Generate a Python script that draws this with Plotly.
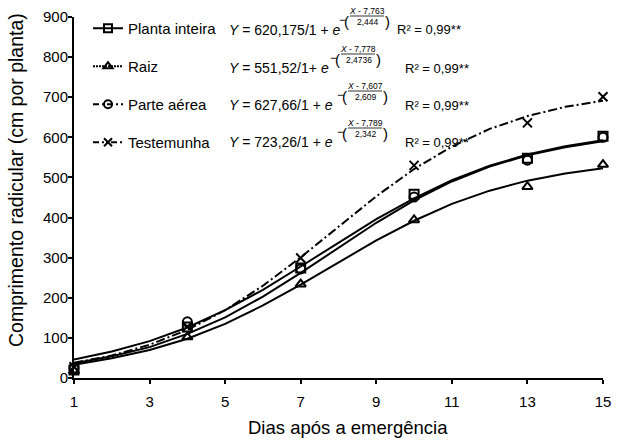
import plotly.graph_objects as go

# ---------------- data ----------------
days_obs = [1, 4, 7, 10, 13, 15]
planta_obs = [20, 127, 274, 458, 548, 603]
raiz_obs = [18, 102, 234, 394, 477, 532]
parte_obs = [25, 140, 272, 451, 543, 600]
test_obs = [28, 128, 299, 530, 636, 701]

days_fit = list(range(1, 16))
planta_fit = [37, 54, 77, 110, 151, 203, 262, 325, 387, 443, 490, 527, 555, 575, 590]
raiz_fit = [33, 49, 70, 98, 135, 181, 233, 288, 343, 392, 434, 467, 492, 510, 523]
parte_fit = [46, 66, 92, 126, 169, 220, 278, 337, 396, 448, 493, 529, 557, 578, 593]
test_fit = [38, 56, 83, 120, 169, 230, 301, 378, 453, 521, 577, 621, 653, 676, 691]

series_names = ["Planta inteira", "Raiz", "Parte aérea", "Testemunha"]
eq_base = ["<i>Y</i> = 620,175/1 + <i>e</i>", "<i>Y</i> = 551,52/1+ <i>e</i>",
           "<i>Y</i> = 627,66/1 + <i>e</i>", "<i>Y</i> = 723,26/1 + <i>e</i>"]
eq_num = ["<i>X</i> - 7,763", "<i>X</i> - 7,778", "<i>X</i> - 7,607", "<i>X</i> - 7,789"]
eq_den = ["2,444", "2,4736", "2,609", "2,342"]
r2_text = ["R² = 0,99**"] * 4

x_ticks = [1, 3, 5, 7, 9, 11, 13, 15]
y_ticks = [0, 100, 200, 300, 400, 500, 600, 700, 800, 900]
x_title = "Dias após a emergência"
y_title = "Comprimento radicular (cm por planta)"

# ---------------- styles ----------------
FONT = "Liberation Sans, Arial, sans-serif"
symbols = ["square-open", "triangle-up-open", "circle-open", "x-thin-open"]
fit_dash = ["solid", "solid", "solid", "9px,3px,2px,3px"]
leg_dash = ["solid", "2px,1px", "6px,3px,2px,3px", "6px,3px,2px,2px,2px,3px"]
obs_all = [planta_obs, raiz_obs, parte_obs, test_obs]
fit_all = [planta_fit, raiz_fit, parte_fit, test_fit]

L, R, T, B = 74, 16, 17, 65
W, H = 619, 443
PW, PH = W - L - R, H - T - B


def px(x):
    return (x - L) / PW


def py(y):
    return (H - B - y) / PH


fig = go.Figure()

for i in range(4):
    fig.add_trace(go.Scatter(
        x=days_fit, y=fit_all[i], mode="lines", showlegend=False,
        line=dict(color="black", width=2, dash=fit_dash[i]), hoverinfo="skip"))

for i in range(4):
    fig.add_trace(go.Scatter(
        x=days_obs, y=obs_all[i], mode="markers", showlegend=False, cliponaxis=False,
        marker=dict(symbol=symbols[i], size=9, color="black",
                    line=dict(color="black", width=2))))

# legend entries
for i in range(4):
    fig.add_trace(go.Scatter(
        x=[None], y=[None], mode="lines+markers", name=series_names[i],
        legendgroup=f"g{i}",
        line=dict(color="black", width=2, dash=leg_dash[i]),
        marker=dict(symbol=symbols[i], size=8, color="black",
                    line=dict(color="black", width=2))))

# ---------------- equations ----------------
row_y = [30, 68, 105, 142]
e_end = [338, 329, 336, 336]
r_x = [395, 403, 403, 403]
ann = []
shapes = []
for i in range(4):
    yc = row_y[i]
    xe = e_end[i]
    ann.append(dict(x=px(227), y=py(yc), xref="paper", yref="paper", text=eq_base[i],
                    xanchor="left", yanchor="middle", showarrow=False,
                    font=dict(family=FONT, size=14, color="black")))
    ann.append(dict(x=px(xe + 4), y=py(yc - 10), xref="paper", yref="paper", text="−",
                    xanchor="center", yanchor="middle", showarrow=False,
                    font=dict(family=FONT, size=12, color="black")))
    ann.append(dict(x=px(xe + 8.5), y=py(yc - 9), xref="paper", yref="paper", text="(",
                    xanchor="center", yanchor="middle", showarrow=False,
                    font=dict(family=FONT, size=15, color="black")))
    ann.append(dict(x=px(xe + 29), y=py(yc - 19), xref="paper", yref="paper", text=eq_num[i],
                    xanchor="center", yanchor="middle", showarrow=False,
                    font=dict(family=FONT, size=8.5, color="black")))
    ann.append(dict(x=px(xe + 30), y=py(yc - 8), xref="paper", yref="paper", text=eq_den[i],
                    xanchor="center", yanchor="middle", showarrow=False,
                    font=dict(family=FONT, size=8.5, color="black")))
    ann.append(dict(x=px(xe + 49.5), y=py(yc - 9), xref="paper", yref="paper", text=")",
                    xanchor="center", yanchor="middle", showarrow=False,
                    font=dict(family=FONT, size=15, color="black")))
    ann.append(dict(x=px(r_x[i]), y=py(yc), xref="paper", yref="paper", text=r2_text[i],
                    xanchor="left", yanchor="middle", showarrow=False,
                    font=dict(family=FONT, size=13, color="black")))
    shapes.append(dict(type="line", xref="paper", yref="paper",
                       x0=px(xe + 12), x1=px(xe + 46), y0=py(yc - 14), y1=py(yc - 14),
                       line=dict(color="black", width=0.8)))

# axis titles as annotations (positioned as in the reference)
ann.append(dict(x=px(348), y=py(427), xref="paper", yref="paper", text=x_title,
                xanchor="center", yanchor="middle", showarrow=False,
                font=dict(family=FONT, size=18.5, color="black")))
ann.append(dict(x=px(16), y=py(180), xref="paper", yref="paper", text=y_title,
                xanchor="center", yanchor="middle", showarrow=False, textangle=-90,
                font=dict(family=FONT, size=19.5, color="black")))

axis_common = dict(showgrid=False, zeroline=False, color="black", automargin=False)

fig.update_layout(
    width=W, height=H,
    margin=dict(l=L, r=R, t=T, b=B, autoexpand=False),
    paper_bgcolor="white", plot_bgcolor="white",
    font=dict(family=FONT, size=15, color="black"),
    showlegend=True,
    legend=dict(x=px(88), y=py(12), xanchor="left", yanchor="top",
                bgcolor="rgba(0,0,0,0)", tracegroupgap=15.5,
                font=dict(family=FONT, size=15, color="black")),
    xaxis=dict(range=[1, 15], tickvals=x_ticks, ticktext=[str(v) for v in x_ticks],
               ticks="outside", ticklen=4, tickwidth=2, tickcolor="black",
               showline=True, linewidth=2, linecolor="black",
               ticklabelstandoff=5,
               tickfont=dict(size=15), **axis_common),
    yaxis=dict(range=[0, 900], tickvals=y_ticks, ticktext=[str(v) for v in y_ticks],
               ticks="outside", ticklen=4, tickwidth=2, tickcolor="black",
               showline=True, linewidth=2, linecolor="black",
               ticklabelstandoff=-3,
               tickfont=dict(size=15), **axis_common),
    xaxis2=dict(range=[1, 15], overlaying="x", anchor="y", tickvals=x_ticks,
                ticks="inside", ticklen=4, tickwidth=2, tickcolor="black",
                showticklabels=False, showline=False, **axis_common),
    yaxis2=dict(range=[0, 900], overlaying="y", anchor="x", tickvals=y_ticks,
                ticks="inside", ticklen=4, tickwidth=2, tickcolor="black",
                showticklabels=False, showline=False, **axis_common),
    annotations=ann,
    shapes=shapes,
)

fig.write_html("out.html",
               config={"displayModeBar": False},
               post_script="document.body.style.margin='0px';"
                           "document.body.style.overflow='hidden';")
